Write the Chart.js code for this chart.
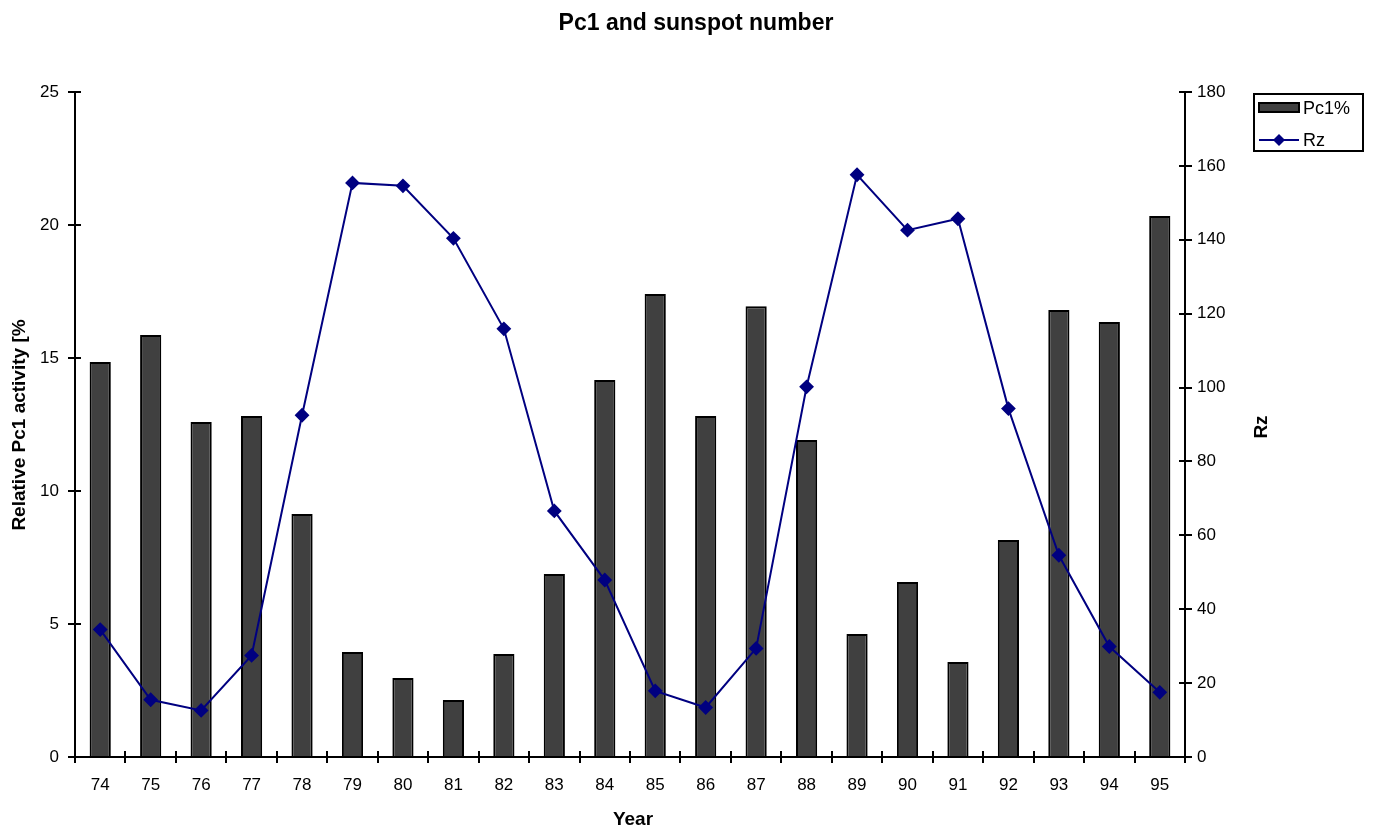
<!DOCTYPE html>
<html>
<head>
<meta charset="utf-8">
<title>Pc1 and sunspot number</title>
<script src="https://cdn.jsdelivr.net/npm/chart.js@4/dist/chart.umd.min.js"></script>
<style>
    body { margin: 0; background: #fff; }
    #wrap { position: relative; width: 1373px; height: 831px; }
</style>
</head>
<body>
<div id="wrap"><canvas id="chart" width="1373" height="831"></canvas></div>
<script>
// Chart data
const years = ['74', '75', '76', '77', '78', '79', '80', '81', '82', '83', '84',
               '85', '86', '87', '88', '89', '90', '91', '92', '93', '94', '95'];
const pc1Percent = [14.85, 15.86, 12.59, 12.82, 9.14, 3.95, 2.97, 2.14, 3.87, 6.88, 14.17,
                    17.41, 12.82, 16.95, 11.92, 4.62, 6.58, 3.57, 8.16, 16.8, 16.35, 20.34];
const rz = [34.5, 15.5, 12.6, 27.5, 92.5, 155.4, 154.6, 140.4, 115.9, 66.6, 47.9,
            17.9, 13.4, 29.4, 100.2, 157.6, 142.6, 145.7, 94.3, 54.6, 29.9, 17.5];
const leftTicks = { min: 0, max: 25, step: 5 };
const rightTicks = { min: 0, max: 180, step: 20 };

const FONT = "'Liberation Sans', Arial, sans-serif";
const BAR_FILL = '#404040';
const LINE_COLOR = '#000080';

// draws the inner half of each tick mark, so ticks cross the axis lines
const crossTicks = {
    id: 'crossTicks',
    afterDraw(chart) {
        const ctx = chart.ctx;
        const { x, y, y1 } = chart.scales;
        ctx.save();
        ctx.strokeStyle = '#000';
        ctx.lineWidth = 2;
        ctx.beginPath();
        y.ticks.forEach((t, i) => {
            const py = Math.round(y.getPixelForTick(i));
            ctx.moveTo(y.right, py); ctx.lineTo(y.right + 6, py);
        });
        y1.ticks.forEach((t, i) => {
            const py = Math.round(y1.getPixelForTick(i));
            ctx.moveTo(y1.left - 6, py); ctx.lineTo(y1.left, py);
        });
        const step = x.getPixelForTick(1) - x.getPixelForTick(0);
        for (let i = 0; i <= years.length; i++) {
            const px = Math.round(x.getPixelForTick(0) - step / 2 + i * step);
            ctx.moveTo(px, x.top - 6); ctx.lineTo(px, x.top);
        }
        ctx.stroke();
        ctx.restore();
    }
};

// titles and legend box in the spots the reference uses
const labels = {
    id: 'labels',
    afterDraw(chart) {
        const ctx = chart.ctx;
        ctx.save();
        ctx.fillStyle = '#000';
        ctx.textAlign = 'center';
        ctx.textBaseline = 'middle';
        ctx.font = 'bold 23px ' + FONT;
        ctx.fillText('Pc1 and sunspot number', 696, 24);
        ctx.font = 'bold 19px ' + FONT;
        ctx.fillText('Year', 633, 820);

        ctx.save();
        ctx.translate(20, 425);
        ctx.rotate(-Math.PI / 2);
        ctx.fillText('Relative Pc1 activity [%', 0, 0);
        ctx.restore();
        ctx.save();
        ctx.translate(1262, 427);
        ctx.rotate(-Math.PI / 2);
        ctx.fillText('Rz', 0, 0);
        ctx.restore();

        // legend
        ctx.strokeStyle = '#000';
        ctx.lineWidth = 2;
        ctx.strokeRect(1254, 94, 109, 57);
        ctx.fillStyle = BAR_FILL;
        ctx.fillRect(1259, 103, 40, 9);
        ctx.strokeRect(1259, 103, 40, 9);
        ctx.strokeStyle = LINE_COLOR;
        ctx.lineWidth = 2;
        ctx.beginPath();
        ctx.moveTo(1259, 140); ctx.lineTo(1299, 140);
        ctx.stroke();
        ctx.fillStyle = LINE_COLOR;
        ctx.beginPath();
        ctx.moveTo(1279, 134); ctx.lineTo(1285, 140); ctx.lineTo(1279, 146); ctx.lineTo(1273, 140);
        ctx.closePath();
        ctx.fill();
        ctx.fillStyle = '#000';
        ctx.textAlign = 'left';
        ctx.font = '18px ' + FONT;
        ctx.fillText('Pc1%', 1303, 109);
        ctx.fillText('Rz', 1303, 141);
        ctx.restore();
    }
};

const ctx = document.getElementById('chart').getContext('2d');
new Chart(ctx, {
    data: {
        labels: years,
        datasets: [
            {
                type: 'line',
                label: 'Rz',
                data: rz,
                yAxisID: 'y1',
                borderColor: LINE_COLOR,
                backgroundColor: LINE_COLOR,
                borderWidth: 2,
                pointStyle: 'rectRot',
                pointRadius: 6,
                tension: 0,
                order: 0
            },
            {
                type: 'bar',
                label: 'Pc1%',
                data: pc1Percent,
                yAxisID: 'y',
                backgroundColor: BAR_FILL,
                borderColor: '#000',
                borderWidth: 2,
                barPercentage: 0.42,
                categoryPercentage: 1,
                order: 1
            }
        ]
    },
    options: {
        responsive: false,
        animation: false,
        layout: { padding: { top: 92, left: 0, right: 0, bottom: 0 } },
        plugins: {
            legend: { display: false },
            title: { display: false },
            tooltip: { enabled: false }
        },
        scales: {
            x: {
                type: 'category',
                offset: true,
                grid: { offset: true, drawOnChartArea: false, tickLength: 6, color: '#000', lineWidth: 2 },
                border: { color: '#000', width: 2 },
                ticks: { color: '#000', font: { family: FONT, size: 17 }, padding: 12, maxRotation: 0 },
                afterFit(s) { s.height = 74; }
            },
            y: {
                position: 'left',
                min: leftTicks.min,
                max: leftTicks.max,
                grid: { drawOnChartArea: false, tickLength: 7, color: '#000', lineWidth: 2 },
                border: { color: '#000', width: 2 },
                ticks: { stepSize: leftTicks.step, color: '#000', font: { family: FONT, size: 17 }, padding: 9 },
                afterFit(s) { s.width = 75; }
            },
            y1: {
                position: 'right',
                min: rightTicks.min,
                max: rightTicks.max,
                grid: { drawOnChartArea: false, tickLength: 7, color: '#000', lineWidth: 2 },
                border: { color: '#000', width: 2 },
                ticks: { stepSize: rightTicks.step, color: '#000', font: { family: FONT, size: 17 }, padding: 5 },
                afterFit(s) { s.width = 188; }
            }
        }
    },
    plugins: [crossTicks, labels]
});
</script>
</body>
</html>
